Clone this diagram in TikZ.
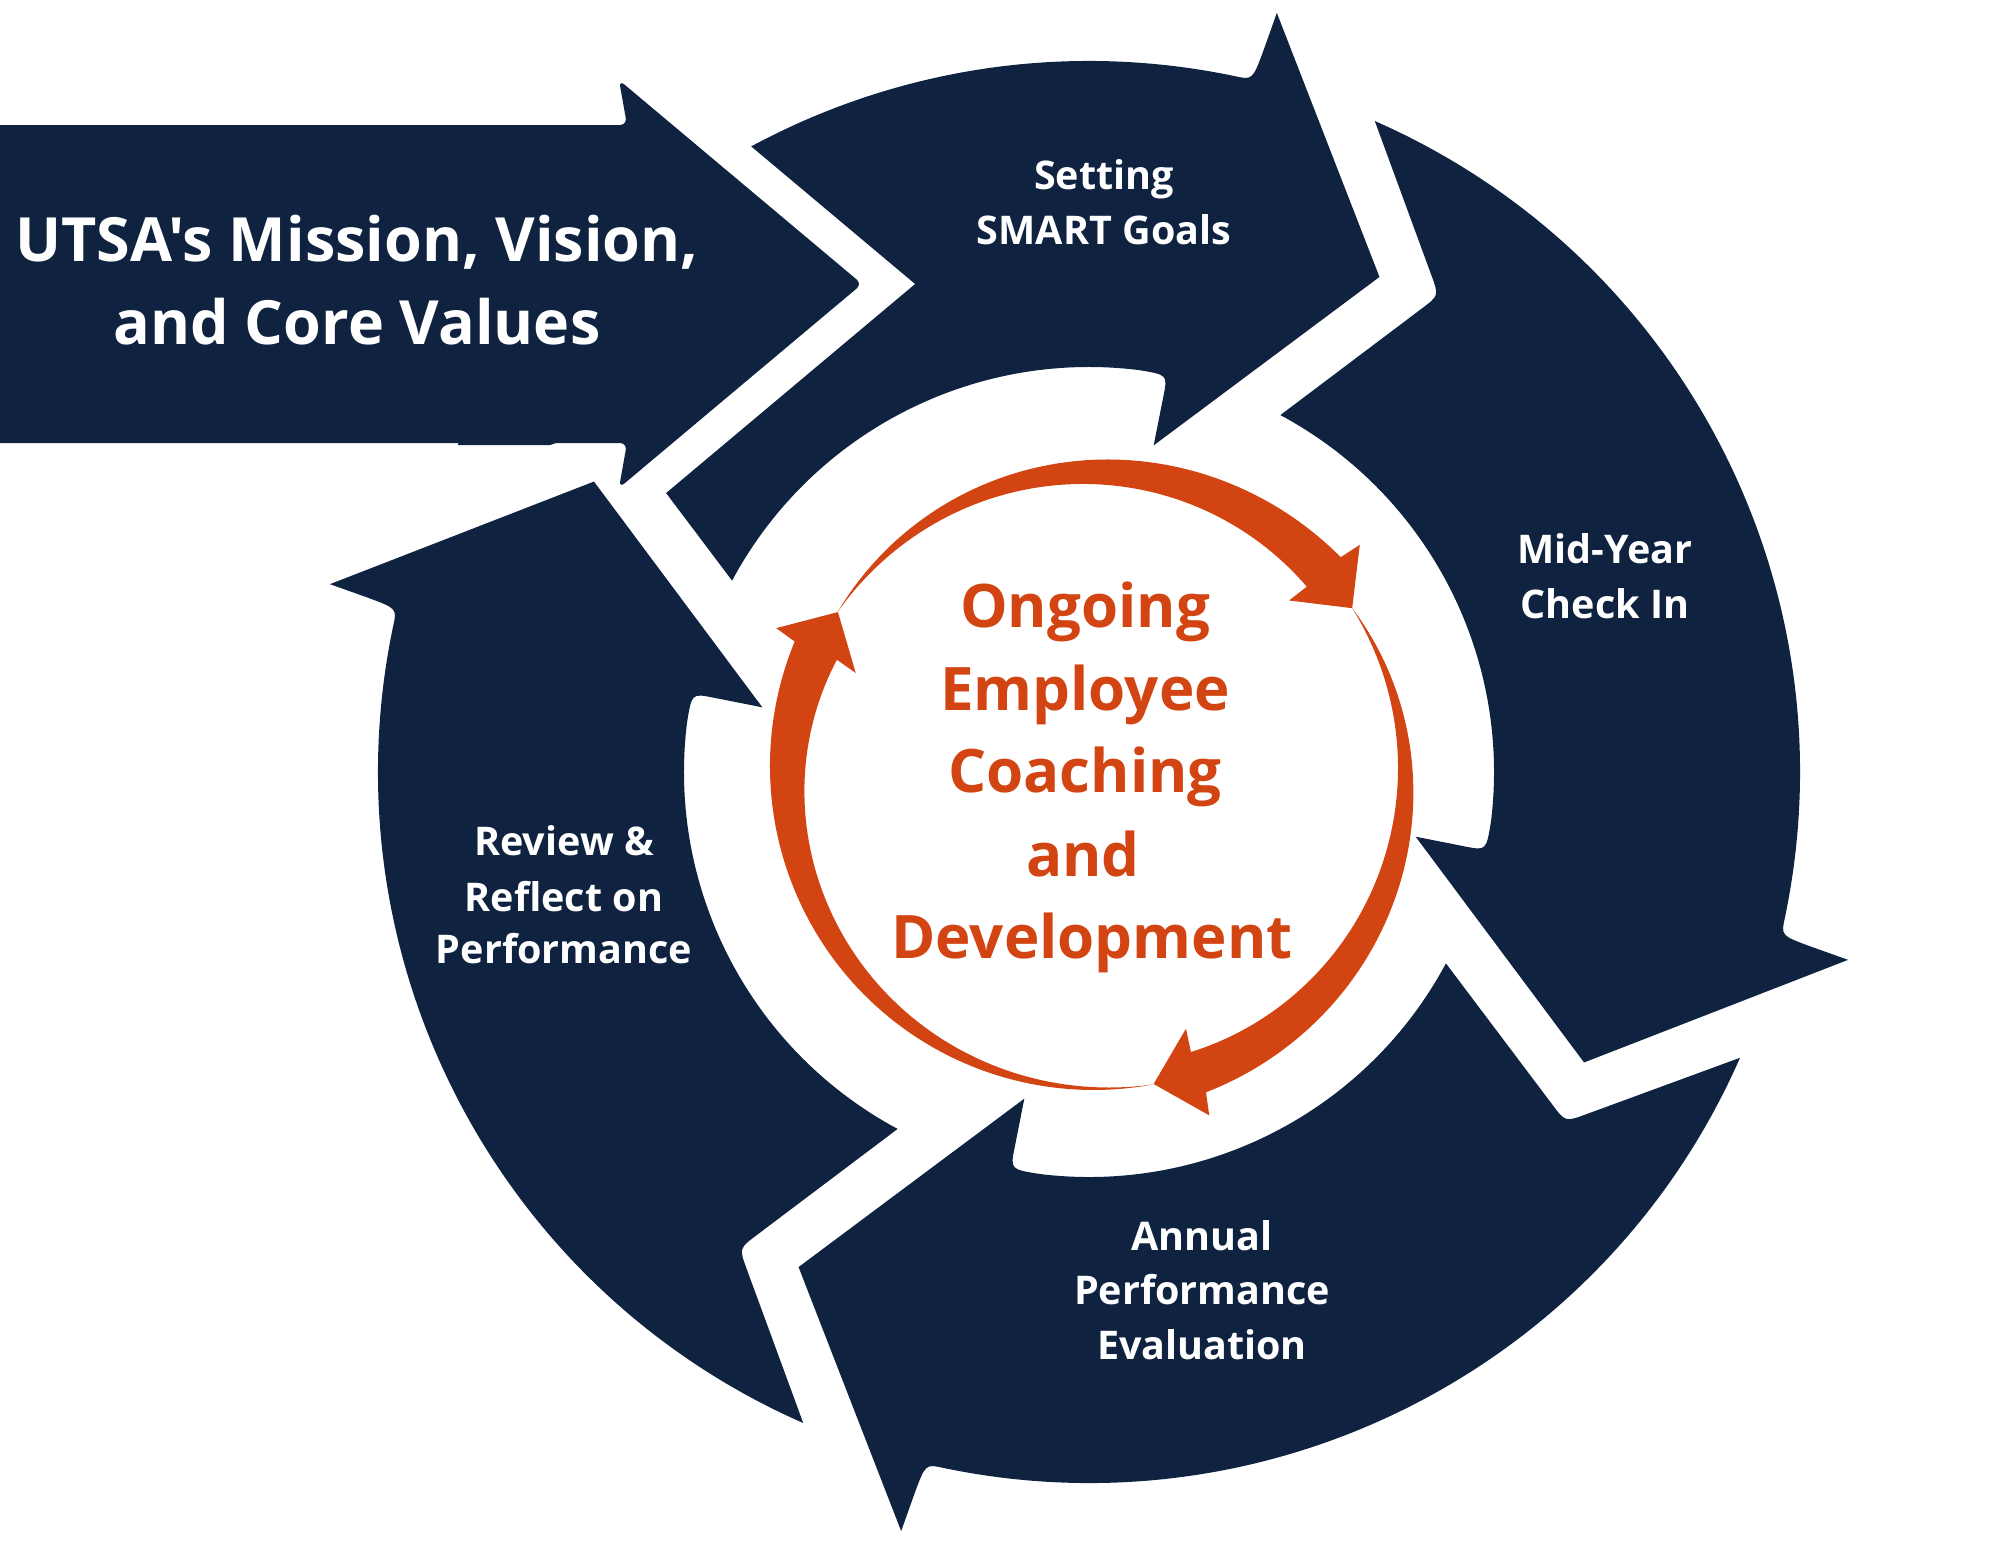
\documentclass[tikz,border=0pt]{standalone}
\usepackage{fontspec}
\newfontfamily\osans{Open Sans}
\definecolor{navy}{RGB}{15,35,65}
\definecolor{orng}{RGB}{210,69,18}
\newcommand\navyarrow[1]{%
  \fill[navy,rotate=#1]
    (156.3:711) arc[start angle=156.3, end angle=78.2, radius=711]
    .. controls (76.7:711) .. (76.4:743)
    -- (76.1:782) -- (59.6:574) -- (78.8:333) -- (78.8:383)
    .. controls (78.8:405) .. (83.0:405)
    arc[start angle=83.0, end angle=151.8, radius=405]
    -- (-463.1,332.3) .. controls (-476.3,349.9) .. (-497.0,342.3) -- cycle;}
\begin{document}
\begin{tikzpicture}[x=1pt,y=1pt,
  lbl/.style={text=white,font=\osans\bfseries\fontsize{39.5}{48}\selectfont,inner sep=0pt,anchor=base},
  bigtxt/.style={text=white,font=\osans\bfseries\fontsize{61}{76}\selectfont,inner sep=0pt,anchor=base},
  midtxt/.style={text=orng,font=\osans\bfseries\fontsize{60}{80}\selectfont,inner sep=0pt,anchor=base},
  whitegap/.style={draw=white,line width=68pt,line join=miter,line cap=round},
  orngarrow/.style={fill=orng}]
\useasboundingbox (0,0) rectangle (2000,-1545);
\clip (0,0) rectangle (2000,-1545);
% top arrow (partly hidden by the mission arrow)
\begin{scope}[shift={(1089,-772)}]
  \begin{scope}
    \clip (-1089,772) -- (911,772) -- (911,-773) -- (-462,-773) -- (-462,327) -- (-1089,327) -- cycle;
    \navyarrow{0}
  \end{scope}
\end{scope}
% mission arrow
\draw[whitegap] (619,-80) -- (862,-284) -- (619,-488);
\fill[navy,rounded corners=7pt] (-40,-125) -- (627,-125) -- (619,-80) -- (862,-284) -- (619,-488) -- (627,-443) -- (-40,-443) -- cycle;
% other cycle arrows and orange arrows
\begin{scope}[shift={(1089,-772)}]
  \navyarrow{-90}
  \navyarrow{-180}
  \navyarrow{-270}
  \fill[orngarrow] plot[domain=0:1,samples=80,variable=\t] ({147.5-107.1*\t}:{298+18.03*\t+14.97*\t*\t})
     -- (40.0:353.5) -- (31.9:310) -- (40.6:263.6)
     -- plot[domain=0:1,samples=80,variable=\t] ({147.5-107.1*(1-\t)}:{298-26.3*(1-\t)+14.3*(1-\t)*(1-\t)}) -- cycle;
  \fill[orngarrow] plot[domain=0:1,samples=80,variable=\t] ({31.9-101.9*\t}:{310+49.6*\t-18.6*\t*\t})
     -- (-70.7:363.8) -- (-78.3:318.6) -- (-69.3:274.4)
     -- plot[domain=0:1,samples=80,variable=\t] ({31.9-101.9*(1-\t)}:{310+0.8*(1-\t)-12.8*(1-\t)*(1-\t)}) -- cycle;
  \fill[orngarrow] plot[domain=0:1,samples=80,variable=\t] ({-78.3-125.7*\t}:{319-12.7*\t+15.7*\t*\t})
     -- (-204.7:344.3) -- (-212.5:297.7) -- (-203:253.4)
     -- plot[domain=0:1,samples=80,variable=\t] ({-78.3-125.7*(1-\t)}:{319-44.4*(1-\t)+1.36*(1-\t)*(1-\t)}) -- cycle;
\end{scope}
% texts
\node[bigtxt] (mis1) at (357,-261) {UTSA's Mission, Vision,};
\node[bigtxt] (mis2) at (357,-344) {and Core Values};
\node[lbl] (set1) at (1104,-189.3) {Setting};
\node[lbl] (set2) at (1104,-244) {SMART Goals};
\node[lbl] (mid1) at (1605,-563.8) {Mid-Year};
\node[lbl] (mid2) at (1605,-618.6) {Check In};
\node[lbl] (ann1) at (1202,-1250) {Annual};
\node[lbl] (ann2) at (1202,-1304.8) {Performance};
\node[lbl] (ann3) at (1202,-1359.7) {Evaluation};
\node[lbl] (rev1) at (564,-855.7) {Review \&};
\node[lbl] (rev2) at (564,-911) {Reflect on};
\node[lbl] (rev3) at (564,-963.3) {Performance};
\node[midtxt] (c1) at (1085,-627) {Ongoing};
\node[midtxt] (c2) at (1085,-710) {Employee};
\node[midtxt] (c3) at (1085,-792.7) {Coaching};
\node[midtxt] (c4) at (1083,-876) {and};
\node[midtxt] (c5) at (1092,-958.3) {Development};
\end{tikzpicture}
\end{document}
